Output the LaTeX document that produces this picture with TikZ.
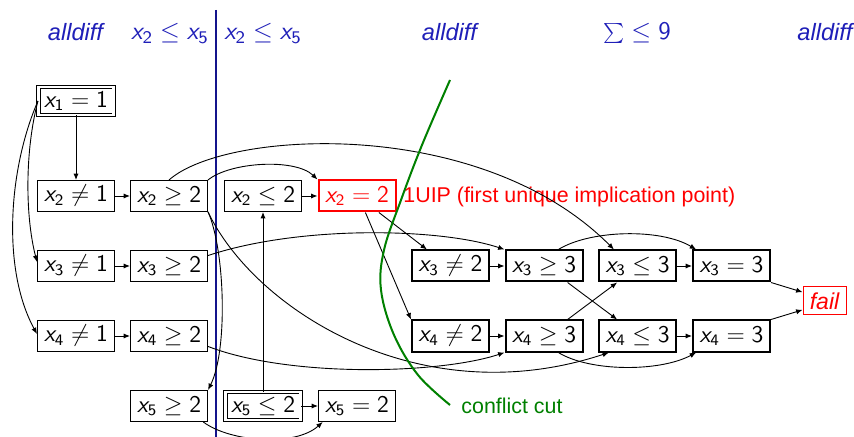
\RequirePackage{fix-cm}
\documentclass[tikz,border=0pt]{standalone}
\usepackage{fontspec}
\newfontfamily\hv{Liberation Sans}
\usetikzlibrary{arrows.meta}
\DeclareMathAlphabet{\msl}{OT1}{cmss}{m}{sl}
\DeclareMathAlphabet{\msf}{OT1}{cmss}{m}{n}
\definecolor{hblue}{rgb}{0.12,0.12,0.72}
\definecolor{lineblue}{rgb}{0.08,0.08,0.55}
\definecolor{cutgreen}{rgb}{0,0.5,0}
\newcommand{\lit}[3]{$\msl{x}_{\msf{#1}}\mathrel{#2}\msf{#3}$}
\tikzset{
  bx/.style={draw, line width=0.5pt, minimum width=38.5pt, minimum height=15.5pt, inner sep=0pt, font=\fontsize{12}{14}\selectfont},
  tbx/.style={bx, line width=1pt},
  dbx/.style={bx, double, double distance=1.2pt, line width=0.45pt, minimum width=37.6pt, minimum height=14pt},
  rbx/.style={bx, draw=red, line width=1pt, text=red},
  hd/.style={text=hblue, font=\hv\itshape\fontsize{11.8}{14}\selectfont, anchor=base},
  hdm/.style={text=hblue, font=\fontsize{12.7}{15}\selectfont, anchor=base},
  arr/.style={-{Latex[length=3.2pt,width=2.6pt]}, line width=0.45pt},
}
\begin{document}
\begin{tikzpicture}[x=0.5pt,y=0.5pt]
\useasboundingbox (0,0) rectangle (854,-437);
% headers
\node[hd] (h1) at (75.5,-40.5) {alldiff};
\node[hdm] (h2) at (170,-40) {$\msl{x}_{\msf{2}}\leq\msl{x}_{\msf{5}}$};
\node[hdm] (h3) at (263,-40) {$\msl{x}_{\msf{2}}\leq\msl{x}_{\msf{5}}$};
\node[hd] (h4) at (449.5,-40.5) {alldiff};
\node[hdm] (h5) at (637,-40) {$\textstyle\sum\leq\msf{9}$};
\node[hd] (h6) at (825,-40.5) {alldiff};
% vertical separator
\coordinate (vt) at (216,-10);
\coordinate (vb) at (216,-445);
\draw[lineblue, line width=1pt] (vt) -- (vb);
% nodes
\node[dbx] (x1) at (76,-101) {$\msl{x}_{\msf{1}}=\msf{1}$};
\node[bx] (x2n1) at (76,-196) {\lit{2}{\neq}{1}};
\node[bx] (x2g2) at (169,-196) {\lit{2}{\geq}{2}};
\node[bx] (x2l2) at (263,-196) {\lit{2}{\leq}{2}};
\node[rbx] (x22) at (357,-196) {\lit{2}{=}{2}};
\node[bx] (x3n1) at (76,-266) {\lit{3}{\neq}{1}};
\node[bx] (x3g2) at (169,-266) {\lit{3}{\geq}{2}};
\node[bx] (x4n1) at (76,-336) {\lit{4}{\neq}{1}};
\node[bx] (x4g2) at (169,-336) {\lit{4}{\geq}{2}};
\node[bx] (x5g2) at (169,-406) {\lit{5}{\geq}{2}};
\node[dbx] (x5l2) at (263,-406) {\lit{5}{\leq}{2}};
\node[bx] (x5e2) at (357,-406) {\lit{5}{=}{2}};
\node[tbx] (x3n2) at (450.5,-266) {\lit{3}{\neq}{2}};
\node[tbx] (x3g3) at (544,-266) {\lit{3}{\geq}{3}};
\node[tbx] (x3l3) at (637.5,-266) {\lit{3}{\leq}{3}};
\node[tbx] (x3e3) at (731.5,-266) {\lit{3}{=}{3}};
\node[tbx] (x4n2) at (450.5,-336) {\lit{4}{\neq}{2}};
\node[tbx] (x4g3) at (544,-336) {\lit{4}{\geq}{3}};
\node[tbx] (x4l3) at (637.5,-336) {\lit{4}{\leq}{3}};
\node[tbx] (x4e3) at (731.5,-336) {\lit{4}{=}{3}};
\node[draw=red, line width=0.5pt, minimum width=21.5pt, minimum height=14pt, inner sep=1pt, text=red, font=\hv\itshape\fontsize{11.5}{14}\selectfont] (fail) at (824.5,-301) {fail};
% labels
\node[anchor=base west, text=red, font=\hv\fontsize{10.7}{13}\selectfont, inner sep=0pt] (uip) at (403,-203) {1UIP (first unique implication point)};
\node[anchor=base west, text=cutgreen, font=\hv\fontsize{10.7}{13}\selectfont, inner sep=0pt] (cutlbl) at (461,-413) {conflict cut};
% straight edges
\draw[arr] (x1.south) -- (x2n1.north);
\draw[arr] (x2n1) -- (x2g2);
\draw[arr] (x3n1) -- (x3g2);
\draw[arr] (x4n1) -- (x4g2);
\draw[arr] (x2l2) -- (x22);
\draw[arr] (x5l2) -- (x5e2);
\draw[arr] (x5l2.north) -- (x2l2.south);
\draw[arr] (x3n2) -- (x3g3);
\draw[arr] (x4n2) -- (x4g3);
\draw[arr] (x3l3) -- (x3e3);
\draw[arr] (x4l3) -- (x4e3);
\draw[arr] (x22.-37) -- (x3n2.145);
\draw[arr] (x22.-63) -- (x4n2.north west);
\draw[arr] (x3g3.-35) -- (x4l3.141);
\draw[arr] (x4g3.35) -- (x3l3.-141);
\draw[arr] (x3e3.south east) -- (fail.158);
\draw[arr] (x4e3.north east) -- (fail.-158);
% curved edges
\draw[arr] (x1.west) .. controls (25,-150) and (25,-215) .. ([yshift=2pt]x3n1.west);
\draw[arr] (x1.west) .. controls (8,-170) and (2,-270) .. ([yshift=1pt]x4n1.west);
\draw[arr] (x2g2.north east) .. controls (230,-162) and (295,-158) .. (x22.north west);
\draw[arr] (x2g2.north) .. controls (225,-130) and (480,-115) .. (x3l3.145);
\draw[arr] (x2g2.-22) .. controls (225,-250) and (228,-350) .. (x5g2.north east);
\draw[arr] (x2g2.south east) .. controls (255,-310) and (420,-415) .. (x4l3.-150);
\draw[arr] (x3g2.15) .. controls (300,-225) and (440,-228) .. (x3g3.north west);
\draw[arr] (x4g2.-15) .. controls (290,-378) and (440,-374) .. (x4g3.south west);
\draw[arr] (x3g3.49) .. controls (590,-230) and (660,-228) .. (x3e3.155);
\draw[arr] (x4g3.-49) .. controls (590,-372) and (660,-372) .. (x4e3.-155);
\draw[arr] (x5g2.-25) .. controls (230,-442) and (295,-447) .. (x5e2.-155);
% conflict cut
\draw[cutgreen, line width=1pt] plot[smooth, tension=0.6] coordinates {(450,-80) (422,-145) (401,-200) (384,-250) (381,-290) (394,-335) (418,-375) (450,-405)};
\end{tikzpicture}
\end{document}
